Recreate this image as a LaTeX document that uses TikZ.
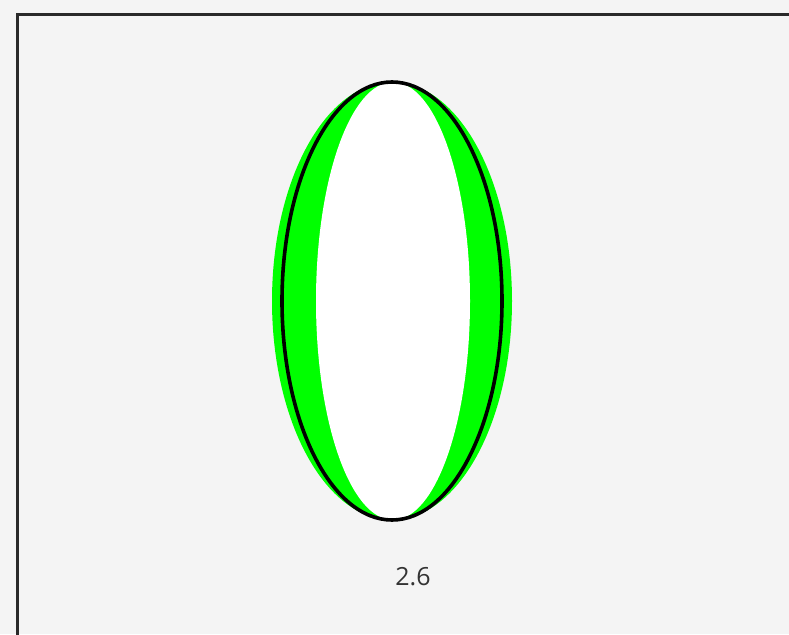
\documentclass[tikz,border=0pt]{standalone}
\usepackage{fontspec}
\setsansfont{Open Sans}
\usetikzlibrary{shapes.geometric,positioning}
\definecolor{pagebg}{HTML}{F4F4F4}
\definecolor{frame}{HTML}{2A2A2A}
\definecolor{ring}{HTML}{00FF00}
\definecolor{ink}{HTML}{333333}
\tikzset{
  oval/.style={ellipse,minimum width=#1,minimum height=438pt,inner sep=0pt},
  lens/.style={oval=#1,fill=ring},
  hole/.style={oval=#1,fill=white},
  rim/.style={oval=#1,draw=black,line width=3.6pt},
  val/.style={font=\sffamily\fontsize{25}{30}\selectfont,text=ink},
}

\begin{document}
\begin{tikzpicture}[x=1pt,y=-1pt]
    \fill[pagebg] (0,0) rectangle (789,634);
    \useasboundingbox (0,0) rectangle (789,634);
    \draw[frame,line width=2.6pt] (17.5,640) -- (17.5,14.5) -- (795,14.5);

    \node[lens=240pt] (outer) at (392,301) {};
    \node[hole=154pt] (inner) at (393,301) {};
    \node[rim=220pt] (shell) at (392,301) {};
    \node[val] (num) at (413,577) {2.6};
  \end{tikzpicture}
\end{document}
